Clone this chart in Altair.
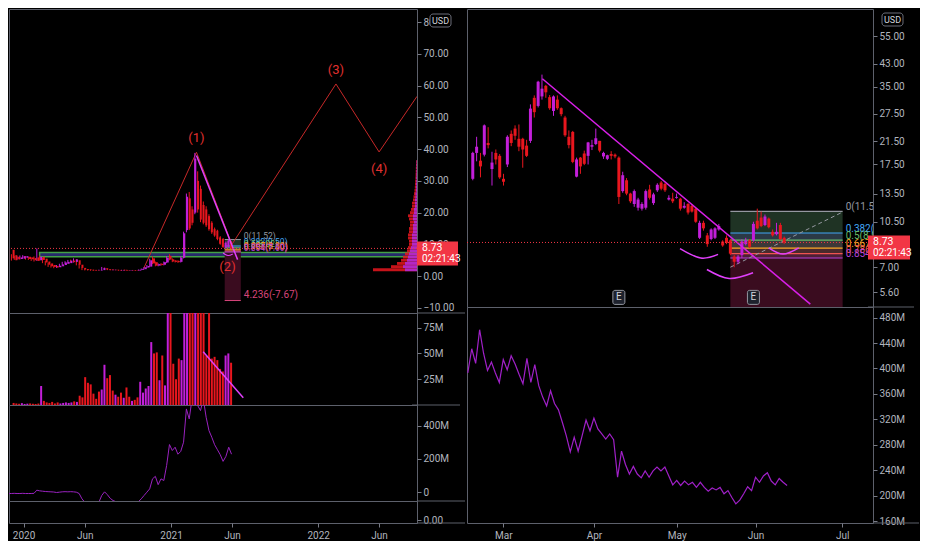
import altair as alt
import pandas as pd

# ---------------- styles ----------------
BG = "#000000"
UP = "#c21fd9"
DN = "#e8161e"
AX = "#b2b5be"
FRAME = "#5d606b"
FONT = "Roboto"
TAG = "#f23645"
W1, W2, GAP = 408, 406, 0
H1, H2, H3, H4 = 304, 92, 96, 22
R1, R2 = 298, 216
SEP_L, SEP_R = 48, 46

# ---------------- left pane: weekly candles ----------------
L_first_week = "2019-11-25"
L_open = [8.3, 6.6, 6.1, 5.4, 5.5, 5.8, 6.1, 5.9, 5.7, 5.9,
          5.0, 6.1, 5.5, 4.6, 4.0, 3.5, 3.2, 2.8, 3.1, 3.5,
          3.9, 4.1, 4.9, 4.5, 5.0, 3.6, 2.6, 2.2, 2.1, 2.0,
          1.95, 1.9, 1.8, 1.9, 2.5, 2.2, 2.1, 1.9, 2.0, 1.95,
          1.8, 2.0, 1.85, 1.75, 1.9, 1.85, 1.75, 2.0, 2.2, 2.7,
          3.0, 5.6, 4.4, 3.3, 3.9, 3.6, 4.3, 6.4, 5.3, 4.9,
          4.8, 4.5, 5.8, 14.5, 24.5, 21.0, 20.0, 30.0, 27.5, 22.4,
          21.0, 18.9, 16.8, 14.8, 14.3, 12.2, 11.7, 9.0, 9.2, 10.7]
L_high = [8.7, 6.9, 6.4, 6.2, 6.5, 6.6, 6.3, 6.1, 5.9, 6.2,
          8.7, 6.5, 5.8, 4.8, 4.2, 3.7, 3.4, 3.5, 3.9, 4.5,
          4.7, 5.1, 5.2, 5.6, 5.3, 3.8, 2.8, 2.3, 2.2, 2.1,
          2.05, 2.0, 2.05, 2.9, 2.7, 2.3, 2.2, 2.1, 2.1, 2.0,
          2.0, 2.1, 1.9, 1.9, 1.95, 1.9, 2.1, 2.4, 2.9, 3.5,
          5.5, 6.2, 4.6, 4.0, 4.1, 4.6, 6.3, 6.9, 5.6, 5.1,
          5.0, 6.2, 14.0, 26.0, 26.5, 22.0, 38.8, 33.0, 28.5, 23.5,
          22.0, 19.5, 17.3, 15.3, 14.6, 12.6, 12.0, 10.9, 11.6, 11.0]
L_low = [5.2, 4.9, 5.1, 5.2, 5.3, 5.6, 5.2, 5.1, 4.8, 4.6,
         4.8, 4.9, 4.1, 3.4, 2.9, 2.7, 2.5, 2.6, 2.9, 3.3,
         3.7, 3.9, 4.2, 4.3, 3.4, 2.4, 1.9, 1.8, 1.8, 1.7,
         1.7, 1.7, 1.75, 1.8, 2.0, 1.9, 1.8, 1.8, 1.8, 1.7,
         1.7, 1.7, 1.65, 1.7, 1.7, 1.65, 1.7, 1.9, 2.1, 2.6,
         2.9, 3.8, 3.1, 3.1, 3.3, 3.4, 4.1, 5.0, 4.4, 4.3,
         4.2, 4.3, 5.6, 13.8, 14.5, 16.0, 19.5, 20.0, 17.0, 16.3,
         15.5, 14.3, 13.3, 12.4, 11.3, 9.9, 8.9, 8.7, 9.0, 8.5]
L_close = [5.6, 5.0, 5.3, 5.9, 6.3, 6.3, 5.4, 5.3, 5.0, 4.8,
           6.1, 5.1, 4.3, 3.6, 3.1, 2.9, 2.7, 3.3, 3.7, 4.3,
           4.5, 4.9, 4.4, 5.3, 3.6, 2.6, 2.1, 1.9, 1.9, 1.8,
           1.8, 1.8, 1.95, 2.6, 2.1, 2.0, 1.9, 2.0, 1.85, 1.8,
           1.95, 1.8, 1.75, 1.85, 1.8, 1.75, 2.0, 2.3, 2.8, 3.2,
           5.0, 4.0, 3.3, 3.8, 3.5, 4.4, 5.8, 5.2, 4.6, 4.5,
           4.4, 5.8, 13.5, 25.0, 15.0, 16.8, 37.0, 21.0, 17.8, 16.8,
           16.0, 14.8, 13.8, 12.8, 11.7, 10.2, 9.2, 10.5, 11.2, 8.73]
L_vol = [2.0, 1.5, 1.2, 1.8, 1.0, 1.3, 1.5, 1.2, 1.0, 1.4,
         18.4, 4.0, 2.5, 2.0, 3.0, 1.5, 2.5, 1.5, 2.0, 2.5,
         2.0, 2.5, 3.5, 3.0, 9.0, 7.4, 27.0, 21.5, 20.0, 11.0,
         6.0, 13.0, 15.0, 39.0, 26.0, 29.0, 14.0, 10.0, 8.0, 12.0,
         7.0, 17.0, 8.0, 4.0, 5.0, 7.4, 22.5, 12.0, 16.0, 18.4,
         61.0, 50.0, 51.0, 24.0, 48.0, 19.0, 120.0, 110.0, 40.0, 25.0,
         45.0, 43.5, 150.0, 200.0, 180.0, 130.0, 250.0, 160.0, 120.0, 100.0,
         48.0, 95.0, 45.0, 46.7, 43.5, 35.0, 32.5, 48.0, 50.0, 41.0]
L_obv = [-8, -8, -7, -8, -8, -7, -8, -8, -8, -7,
         12, 8, 6, 4, 3, 2, 1, -2, 0, 2,
         3, 2, 3, 2, 0, -8, -40, -60, -80, -90,
         -85, -75, -60, -20, 2, -15, -37, -50, -57, -65,
         -75, -85, -80, -75, -70, -62, -57, -40, -20, 0,
         20, 80, 95, 45, 80, 70, 160, 286, 250, 270,
         228, 245, 300, 500, 440, 560, 590, 520, 490, 560,
         450, 370, 330, 285, 255, 225, 185, 215, 270, 228]

L_x0, L_x1 = "2019-11-26", "2022-09-03"
L_ticks = ["2020-01-01", "2020-06-01", "2021-01-01", "2021-06-01", "2022-01-01", "2022-06-01"]
L_price_ticks = [-10, 0, 10, 20, 30, 40, 50, 60, 70, 80]
L_vol_ticks = [25, 50, 75]
L_obv_ticks = [0, 200, 400]

wave_dates = ["2020-10-25", "2021-03-05", "2021-06-01", "2022-02-14", "2022-06-01", "2022-09-03"]
wave_px = [2.4, 39.0, 10.0, 60.5, 39.1, 56.6]
wave_txt = ["(1)", "(2)", "(3)", "(4)"]
wave_txt_dates = ["2021-03-05", "2021-05-21", "2022-02-14", "2022-06-01"]
wave_txt_px = [43.4, 2.75, 64.8, 33.6]
lt_dates = ["2021-03-05", "2021-06-15"]
lt_px = [38.0, 5.2]
vt_dates = ["2021-03-21", "2021-07-01"]
vt_val = [51.7, 7.1]
larc_dates = ["2021-05-10", "2021-05-22", "2021-06-03"]
larc_px = [7.3, 6.5, 7.0]
band_start, band_lo, band_hi = "2020-02-10", 6.1, 7.43
lf_x0, lf_x1 = "2021-05-14", "2021-06-23"

prof_px = [2, 3, 4, 5, 6, 7, 8, 9, 10, 11, 12, 13, 14, 15, 16, 17, 18, 19, 20,
           21, 22, 23, 24, 25, 26, 27, 28, 29, 30, 31, 32, 33, 34, 35, 36]
prof_tot = [44, 26, 20, 16, 14, 12, 10, 9, 8, 8, 9, 9, 8, 8, 7, 7, 8, 9, 7,
            6, 5, 5, 4, 3.5, 3, 2.5, 2.2, 2, 1.8, 1.6, 1.4, 1.3, 1.2, 1.0, 0.8]
prof_up = [12, 14, 12, 10, 9, 8, 7, 6, 5, 5, 5, 5, 4, 4, 4, 3, 4, 4, 3,
           3, 2, 2, 2, 1.5, 1.5, 1, 1, 1, 0.8, 0.8, 0.6, 0.6, 0.5, 0.5, 0.4]

# ---------------- right pane: daily candles ----------------
R_open = [15.4, 19.4, 18.1, 19.1, 21.2, 16.8, 19.4, 18.9, 15.4, 17.5,
          23.0, 24.1, 22.0, 22.0, 20.7, 21.6, 31.7, 29.5, 32.1, 35.3,
          31.9, 28.2, 31.2, 28.9, 26.6, 22.4, 23.4, 15.7, 18.6, 19.3,
          18.9, 20.5, 21.0, 21.6, 18.8, 18.4, 19.2, 19.1, 18.6, 13.8,
          15.2, 13.5, 12.3, 11.9, 11.8, 11.9, 14.0, 12.4, 13.9, 14.9,
          14.7, 12.8, 12.9, 13.0, 12.9, 11.9, 12.3, 12.1, 11.8, 9.1,
          10.4, 9.3, 9.0, 9.1, 9.8, 8.8, 9.1, 8.9, 7.7, 7.35,
          7.8, 8.6, 8.9, 8.9, 10.6, 10.9, 10.2, 10.8, 9.6, 9.4,
          10.2, 9.1]
R_high = [19.6, 22.4, 19.4, 25.0, 24.4, 19.6, 20.0, 19.2, 16.1, 22.7,
          23.7, 24.8, 25.0, 22.2, 21.8, 29.9, 32.4, 36.9, 39.0, 35.6,
          32.5, 32.4, 32.4, 29.1, 27.0, 23.7, 23.6, 18.6, 18.7, 19.8,
          21.4, 21.8, 24.1, 21.6, 19.6, 19.1, 19.7, 19.3, 18.8, 16.4,
          15.5, 13.6, 14.0, 13.0, 12.5, 14.0, 14.6, 13.6, 14.8, 15.1,
          14.9, 13.3, 13.6, 13.5, 13.0, 12.5, 12.4, 12.3, 11.9, 10.6,
          10.6, 9.5, 9.9, 10.0, 10.3, 8.9, 9.3, 9.0, 7.8, 7.8,
          9.0, 9.1, 9.0, 10.5, 11.8, 11.5, 11.2, 10.9, 9.8, 10.4,
          10.4, 9.2]
R_low = [15.2, 18.0, 15.6, 18.8, 20.2, 14.5, 17.5, 15.4, 14.5, 17.1,
         20.6, 21.8, 19.7, 17.0, 18.7, 21.2, 26.6, 29.1, 31.2, 31.7,
         28.5, 27.0, 28.5, 26.9, 22.4, 20.2, 17.7, 15.6, 16.1, 17.4,
         17.5, 19.9, 20.8, 19.5, 18.4, 18.2, 18.3, 18.5, 12.3, 13.6,
         13.3, 12.4, 12.0, 11.6, 11.6, 11.7, 12.8, 12.2, 13.7, 13.9,
         13.7, 12.7, 12.4, 12.9, 11.6, 11.8, 11.2, 11.4, 10.4, 9.0,
         9.7, 8.4, 8.9, 9.0, 9.7, 8.4, 8.6, 7.8, 7.0, 7.2,
         7.6, 8.5, 8.3, 8.8, 9.8, 10.0, 10.1, 9.9, 9.2, 9.3,
         8.9, 8.6]
R_close = [19.4, 20.5, 17.2, 24.8, 20.8, 17.8, 18.3, 15.6, 15.0, 22.4,
           21.2, 22.6, 20.5, 20.0, 18.9, 28.8, 27.9, 36.6, 34.4, 33.3,
           28.9, 32.1, 28.9, 27.4, 22.7, 20.8, 17.9, 18.3, 17.2, 17.6,
           21.3, 20.8, 22.1, 19.8, 19.4, 19.0, 18.9, 18.8, 13.1, 15.9,
           13.5, 12.6, 13.8, 12.8, 12.3, 13.8, 13.0, 13.4, 14.6, 14.1,
           13.9, 13.0, 12.6, 13.1, 11.8, 12.1, 11.4, 11.5, 10.5, 10.4,
           9.9, 8.6, 9.8, 9.9, 10.1, 8.5, 8.7, 7.9, 7.35, 7.7,
           8.8, 8.9, 8.4, 10.3, 9.9, 10.1, 11.0, 10.0, 9.3, 9.6,
           9.0, 8.73]
R_obv = [393, 431, 408, 461, 424, 397, 410, 393, 378, 414,
         398, 420, 407, 391, 376, 416, 378, 406, 373, 355,
         341, 365, 345, 335, 315, 294, 269, 292, 270, 294,
         319, 302, 322, 305, 297, 289, 297, 288, 229, 270,
         249, 234, 246, 234, 228, 239, 229, 239, 245, 239,
         245, 231, 217, 224, 216, 223, 217, 221, 213, 221,
         213, 207, 212, 209, 213, 203, 208, 197, 187, 193,
         203, 214, 208, 229, 221, 231, 236, 223, 217, 227,
         221, 216]
R_x0, R_x1 = -0.2, 102.8
R_month_idx = [9, 32, 53, 73, 95]
R_month_lbl = ["Mar", "Apr", "May", "Jun", "Jul"]
R_price_ticks = [5.6, 7, 10.5, 13.5, 17.5, 21.5, 27.5, 35, 43, 55]
R_obv_ticks = [160, 200, 240, 280, 320, 360, 400, 440, 480]
rt_idx, rt_px = [18.1, 87.8], [37.6, 5.04]
rdiag_idx, rdiag_px = [67.0, 96.2], [7.0, 11.45]
rf_x0, rf_x1 = 67.0, 96.2
arc_id = ["a", "a", "a", "b", "b", "b", "c", "c", "c"]
arc_idx = [53.9, 59.3, 63.8, 60.9, 66.7, 72.9, 77.0, 80.7, 84.8]
arc_px = [8.27, 7.60, 7.85, 6.86, 6.33, 6.66, 8.32, 7.87, 8.32]
e_idx, e_px = [38, 73], [5.35, 5.35]

fib_names = ["0", "0.382", "0.5", "0.667", "0.786", "0.854"]
fib_px = [11.52, 9.50, 8.92, 8.30, 7.90, 7.60]
fib_ext_name, fib_ext_px = "4.236", -7.67
fib_line_col = ["#9598a1", "#42a5f5", "#66bb6a", "#ffa726", "#ef5350", "#b543d8"]
fib_zone_col = ["#1f3324", "#2b3946", "#3e3838", "#4a2a2c", "#4d1f36", "#3a0c1f"]

last_price, last_time = 8.73, "02:21:43"

# ---------------- scales ----------------
LX = alt.Scale(domain=[alt.DateTime(year=2019, month=11, date=26, utc=True),
                       alt.DateTime(year=2022, month=9, date=3, utc=True)], nice=False)
LY_D = [-11.6, 84.1]
LV_D = [0, 89.2]
LO_D = [-53, 523.5]
L4_D = [-0.15, 1]
RY_D = [4.91, 70]
RO_D = [157, 496.7]
LY = alt.Scale(domain=LY_D, nice=False, zero=False)
LV = alt.Scale(domain=LV_D, nice=False, zero=False)
LO = alt.Scale(domain=LO_D, nice=False, zero=False)
L4 = alt.Scale(domain=L4_D, nice=False, zero=False)
RX = alt.Scale(domain=[R_x0, R_x1], nice=False, zero=False)
RY = alt.Scale(type="log", domain=RY_D, nice=False)
RO = alt.Scale(domain=RO_D, nice=False, zero=False)

LY_AX = alt.Axis(orient="right", values=L_price_ticks, format=".2f", title=None, labelOverlap=False)
RY_AX = alt.Axis(orient="right", values=R_price_ticks, format=".2f", title=None, labelOverlap=False)
LV_AX = alt.Axis(orient="right", values=L_vol_ticks, labelExpr="datum.value + 'M'", title=None)
LO_AX = alt.Axis(orient="right", values=L_obv_ticks,
                 labelExpr="datum.value == 0 ? '0' : datum.value + 'M'", title=None)
L4_AX = alt.Axis(orient="right", values=[0], format=".2f", title=None)
RO_AX = alt.Axis(orient="right", values=R_obv_ticks, labelExpr="datum.value + 'M'", title=None)

def lx(f):
    return alt.X(f, scale=LX, axis=None)

def ly(f):
    return alt.Y(f, scale=LY, axis=LY_AX)

def rx(f):
    return alt.X(f, scale=RX, axis=None)

def ry(f):
    return alt.Y(f, scale=RY, axis=RY_AX)

DIR = alt.Color("dir:N", scale=alt.Scale(domain=["up", "dn"], range=[UP, DN]), legend=None)

def sep(xenc, yenc, edge, ybottom, reach):
    # separator line continuing the pane's bottom edge across the price-axis strip
    return alt.Chart(pd.DataFrame(dict(e=[edge], p=[ybottom]))).mark_rule(
        color=FRAME, strokeWidth=1, x2Offset=reach).encode(x=xenc, x2="e", y=yenc)

# ---------------- frames ----------------
L_dates = pd.date_range(L_first_week, periods=len(L_open), freq="7D").strftime("%Y-%m-%d").tolist()
ldf = pd.DataFrame(dict(d=L_dates, o=L_open, h=L_high, l=L_low, c=L_close, v=L_vol, obv=L_obv))
ldf["dir"] = ["up" if c >= o else "dn" for o, c in zip(L_open, L_close)]

rdf = pd.DataFrame(dict(i=list(range(len(R_open))), o=R_open, h=R_high, l=R_low, c=R_close))
rdf["dir"] = ["up" if c >= o else "dn" for o, c in zip(R_open, R_close)]
robv = pd.DataFrame(dict(i=list(range(len(R_obv))), v=R_obv))

def zones(x0, x1, bottom):
    rows = []
    for k in range(len(fib_px)):
        lo = fib_px[k + 1] if k + 1 < len(fib_px) else bottom
        rows.append(dict(x0=x0, x1=x1, a=fib_px[k], b=lo, f=fib_zone_col[k]))
    return pd.DataFrame(rows)

def fib_lines(x0, x1):
    return pd.DataFrame(dict(x0=[x0] * len(fib_px), x1=[x1] * len(fib_px), p=fib_px, f=fib_line_col,
                             t=[f"{n}({p:.2f})" for n, p in zip(fib_names, fib_px)]))

# ---------------- left price pane ----------------
band = alt.Chart(pd.DataFrame(dict(x0=[band_start], x1=[L_x1], a=[band_lo], b=[band_hi]))).mark_rect(
    fill="#2a2d78", fillOpacity=0.9, stroke="#43a047", strokeWidth=1.5, clip=True
).encode(x=lx("x0:T"), x2="x1", y=ly("a:Q"), y2="b")

lz = alt.Chart(zones(lf_x0, lf_x1, fib_ext_px)).mark_rect(clip=True).encode(
    x=lx("x0:T"), x2="x1", y=ly("a:Q"), y2="b", color=alt.Color("f:N", scale=None))
lfl_df = fib_lines(lf_x0, lf_x1)
lfl = alt.Chart(lfl_df).mark_rule(strokeWidth=1, clip=True).encode(
    x=lx("x0:T"), x2="x1", y=ly("p:Q"), color=alt.Color("f:N", scale=None))
lext = alt.Chart(pd.DataFrame(dict(x0=[lf_x0], x1=[lf_x1], p=[fib_ext_px]))).mark_rule(
    color="#d6457a", strokeWidth=1, clip=True).encode(x=lx("x0:T"), x2="x1", y=ly("p:Q"))
lflt = alt.Chart(lfl_df).mark_text(align="left", baseline="bottom", dx=3, dy=1, fontSize=8.5, font=FONT).encode(
    x=lx("x1:T"), y=ly("p:Q"), text="t:N", color=alt.Color("f:N", scale=None))
lextt = alt.Chart(pd.DataFrame(dict(x1=[lf_x1], p=[fib_ext_px], t=[f"{fib_ext_name}({fib_ext_px:.2f})"]))).mark_text(
    align="left", baseline="bottom", dx=3, dy=-1, fontSize=10, font=FONT, color="#d6457a").encode(
    x=lx("x1:T"), y=ly("p:Q"), text="t:N")

pdf = pd.DataFrame(dict(lo=[p - 0.45 for p in prof_px], hi=[p + 0.45 for p in prof_px], tot=prof_tot, up=prof_up))
PX = alt.Scale(domain=[0, W1], reverse=True, nice=False, zero=True)
prof_dn = alt.Chart(pdf).mark_rect(color="#e8161e", opacity=0.85).encode(
    x=alt.X("tot:Q", scale=PX, axis=None), x2=alt.X2(datum=0), y=ly("lo:Q"), y2="hi")
prof_upb = alt.Chart(pdf).mark_rect(color="#b02ad6", opacity=0.9).encode(
    x=alt.X("up:Q", scale=PX, axis=None), x2=alt.X2(datum=0), y=ly("lo:Q"), y2="hi")

wave = alt.Chart(pd.DataFrame(dict(d=wave_dates, p=wave_px))).mark_line(
    color="#c62828", strokeWidth=1, clip=True).encode(x=lx("d:T"), y=ly("p:Q"))

lwick = alt.Chart(ldf).mark_rule(strokeWidth=1, clip=True).encode(x=lx("d:T"), y=ly("l:Q"), y2="h", color=DIR)
lbody = alt.Chart(ldf).mark_bar(size=2, clip=True).encode(x=lx("d:T"), y=ly("o:Q"), y2="c", color=DIR)

ltrend = alt.Chart(pd.DataFrame(dict(d=lt_dates, p=lt_px))).mark_line(
    color="#e040fb", strokeWidth=1.5, clip=True).encode(x=lx("d:T"), y=ly("p:Q"))
larc = alt.Chart(pd.DataFrame(dict(d=larc_dates, p=larc_px))).mark_line(
    color="#e040fb", strokeWidth=1.2, interpolate="natural", clip=True).encode(x=lx("d:T"), y=ly("p:Q"))

lprice = alt.Chart(pd.DataFrame(dict(p=[last_price]))).mark_rule(
    color=TAG, strokeDash=[1, 2], strokeWidth=1).encode(y=ly("p:Q"))

wtxt = alt.Chart(pd.DataFrame(dict(d=wave_txt_dates, p=wave_txt_px, t=wave_txt))).mark_text(
    fontSize=13, font=FONT, color="#e0302f").encode(x=lx("d:T"), y=ly("p:Q"), text="t:N")

ltag_df = pd.DataFrame(dict(e=[L_x1], p=[last_price]))
ltag = alt.Chart(ltag_df).mark_rect(color=TAG, x2Offset=41, yOffset=-7, y2Offset=17).encode(
    x=lx("e:T"), x2="e", y=ly("p:Q"), y2="p")
ltag1 = alt.Chart(ltag_df).mark_text(text=f"{last_price:.2f}", align="left", baseline="middle", dx=5,
                                     color="white", fontSize=10.5, font=FONT).encode(x=lx("e:T"), y=ly("p:Q"))
ltag2 = alt.Chart(ltag_df).mark_text(text=last_time, align="left", baseline="middle", dx=5, dy=11,
                                     color="white", fontSize=10, font=FONT).encode(x=lx("e:T"), y=ly("p:Q"))
lusd_df = pd.DataFrame(dict(e=[L_x1], p=[LY_D[1]]))
lusd = alt.Chart(lusd_df).mark_rect(fill=BG, stroke="#6a6d78", strokeWidth=1, cornerRadius=3,
                                    xOffset=13, x2Offset=34, yOffset=5, y2Offset=18).encode(
    x=lx("e:T"), x2="e", y=ly("p:Q"), y2="p")
lusdt = alt.Chart(lusd_df).mark_text(text="USD", dx=23.5, dy=11.5, baseline="middle", align="center",
                                     color="#d1d4dc", fontSize=9, font=FONT).encode(x=lx("e:T"), y=ly("p:Q"))

p1 = alt.layer(band, lz, lfl, lext, prof_dn, prof_upb, wave, lwick, lbody, ltrend, larc, lprice,
               lflt, lextt, wtxt, ltag, ltag1, ltag2, lusd, lusdt,
               sep(lx("e:T"), ly("p:Q"), L_x1, LY_D[0], SEP_L)).resolve_scale(x="independent").properties(
    width=W1, height=H1)

# ---------------- left volume pane ----------------
vbars = alt.Chart(ldf).mark_bar(size=2, clip=True).encode(
    x=lx("d:T"), y=alt.Y("v:Q", scale=LV, axis=LV_AX), color=DIR)
vtrend = alt.Chart(pd.DataFrame(dict(d=vt_dates, v=vt_val))).mark_line(
    color="#e040fb", strokeWidth=1.5, clip=True).encode(x=lx("d:T"), y=alt.Y("v:Q", scale=LV, axis=LV_AX))
p2 = alt.layer(vbars, vtrend,
               sep(lx("e:T"), alt.Y("p:Q", scale=LV, axis=LV_AX), L_x1, LV_D[0], SEP_L)).properties(
    width=W1, height=H2)

# ---------------- left OBV pane ----------------
obvl = alt.Chart(ldf).mark_line(color="#9a22c0", strokeWidth=1, clip=True).encode(
    x=lx("d:T"), y=alt.Y("obv:Q", scale=LO, axis=LO_AX))
p3 = alt.layer(obvl, sep(lx("e:T"), alt.Y("p:Q", scale=LO, axis=LO_AX), L_x1, LO_D[0], SEP_L)).properties(
    width=W1, height=H3)

# ---------------- left empty pane with time axis ----------------
tick_vals = [alt.DateTime(year=int(t[:4]), month=int(t[5:7]), date=1, utc=True) for t in L_ticks]
LX_AX = alt.Axis(values=tick_vals, title=None, labelPadding=3,
                 labelExpr="utcmonth(datum.value) == 0 ? utcFormat(datum.value, '%Y') : utcFormat(datum.value, '%b')")
dummy = alt.Chart(pd.DataFrame(dict(d=L_ticks, v=[0] * len(L_ticks)))).mark_point(opacity=0).encode(
    x=alt.X("d:T", scale=LX, axis=LX_AX), y=alt.Y("v:Q", scale=L4, axis=L4_AX))
p4 = alt.layer(dummy, sep(alt.X("e:T", scale=LX, axis=LX_AX), alt.Y("p:Q", scale=L4, axis=L4_AX),
                          L_x1, L4_D[0], SEP_L)).properties(width=W1, height=H4)

left = alt.vconcat(p1, p2, p3, p4, spacing=0, bounds="flush")

# ---------------- right price pane ----------------
rz = alt.Chart(zones(rf_x0, rf_x1, RY_D[0])).mark_rect(clip=True).encode(
    x=rx("x0:Q"), x2="x1", y=ry("a:Q"), y2="b", color=alt.Color("f:N", scale=None))
rfl_df = fib_lines(rf_x0, rf_x1)
rfl = alt.Chart(rfl_df).mark_rule(strokeWidth=1.2, clip=True).encode(
    x=rx("x0:Q"), x2="x1", y=ry("p:Q"), color=alt.Color("f:N", scale=None))
rflt = alt.Chart(rfl_df).mark_text(align="left", baseline="bottom", dx=3, dy=1, fontSize=10, font=FONT,
                                   clip=True).encode(
    x=rx("x1:Q"), y=ry("p:Q"), text="t:N", color=alt.Color("f:N", scale=None))
rdiag = alt.Chart(pd.DataFrame(dict(i=rdiag_idx, p=rdiag_px))).mark_line(
    color="#9598a1", strokeDash=[4, 3], strokeWidth=1, clip=True).encode(x=rx("i:Q"), y=ry("p:Q"))

rwick = alt.Chart(rdf).mark_rule(strokeWidth=1, clip=True).encode(x=rx("i:Q"), y=ry("l:Q"), y2="h", color=DIR)
rbody = alt.Chart(rdf).mark_bar(size=3, clip=True).encode(x=rx("i:Q"), y=ry("o:Q"), y2="c", color=DIR)

rtrend = alt.Chart(pd.DataFrame(dict(i=rt_idx, p=rt_px))).mark_line(
    color="#d81fe8", strokeWidth=1.5, clip=True).encode(x=rx("i:Q"), y=ry("p:Q"))
rarcs = alt.Chart(pd.DataFrame(dict(g=arc_id, i=arc_idx, p=arc_px))).mark_line(
    color="#e040fb", strokeWidth=1.5, interpolate="natural", clip=True).encode(
    x=rx("i:Q"), y=ry("p:Q"), detail="g:N")

rprice = alt.Chart(pd.DataFrame(dict(p=[last_price]))).mark_rule(
    color=TAG, strokeDash=[1, 2], strokeWidth=1).encode(y=ry("p:Q"))

edf = pd.DataFrame(dict(i=e_idx, p=e_px))
ebox = alt.Chart(edf).mark_rect(fill="#1e222d", stroke="#9598a1", strokeWidth=1, cornerRadius=2,
                                xOffset=-6, x2Offset=6, yOffset=-7, y2Offset=7).encode(
    x=rx("i:Q"), x2="i", y=ry("p:Q"), y2="p")
etxt = alt.Chart(edf).mark_text(text="E", color="#d1d4dc", fontSize=10, font=FONT, baseline="middle").encode(
    x=rx("i:Q"), y=ry("p:Q"))

rtag_df = pd.DataFrame(dict(e=[R_x1], p=[last_price]))
rtag = alt.Chart(rtag_df).mark_rect(color=TAG, x2Offset=42, yOffset=-7, y2Offset=17).encode(
    x=rx("e:Q"), x2="e", y=ry("p:Q"), y2="p")
rtag1 = alt.Chart(rtag_df).mark_text(text=f"{last_price:.2f}", align="left", baseline="middle", dx=5,
                                     color="white", fontSize=10.5, font=FONT).encode(x=rx("e:Q"), y=ry("p:Q"))
rtag2 = alt.Chart(rtag_df).mark_text(text=last_time, align="left", baseline="middle", dx=5, dy=11,
                                     color="white", fontSize=10, font=FONT).encode(x=rx("e:Q"), y=ry("p:Q"))
rusd_df = pd.DataFrame(dict(e=[R_x1], p=[RY_D[1]]))
rusd = alt.Chart(rusd_df).mark_rect(fill=BG, stroke="#6a6d78", strokeWidth=1, cornerRadius=3,
                                    xOffset=14, x2Offset=35, yOffset=4, y2Offset=17).encode(
    x=rx("e:Q"), x2="e", y=ry("p:Q"), y2="p")
rusdt = alt.Chart(rusd_df).mark_text(text="USD", dx=24.5, dy=10.5, baseline="middle", align="center",
                                     color="#d1d4dc", fontSize=9, font=FONT).encode(x=rx("e:Q"), y=ry("p:Q"))

r1 = alt.layer(rz, rfl, rdiag, rwick, rbody, rtrend, rarcs, rprice, rflt, ebox, etxt,
               rtag, rtag1, rtag2, rusd, rusdt,
               sep(rx("e:Q"), ry("p:Q"), R_x1, RY_D[0], SEP_R)).properties(width=W2, height=R1)

# ---------------- right OBV pane ----------------
month_expr = " : ".join(f"datum.value == {i} ? '{m}'" for i, m in zip(R_month_idx, R_month_lbl)) + " : ''"
RX_AX = alt.Axis(values=R_month_idx, labelExpr=month_expr, title=None, labelPadding=3)
robl = alt.Chart(robv).mark_line(color="#a020c8", strokeWidth=1.2, clip=True).encode(
    x=alt.X("i:Q", scale=RX, axis=RX_AX), y=alt.Y("v:Q", scale=RO, axis=RO_AX))
r2 = alt.layer(robl, sep(alt.X("e:Q", scale=RX, axis=RX_AX), alt.Y("p:Q", scale=RO, axis=RO_AX),
                         R_x1, RO_D[0], SEP_R)).properties(width=W2, height=R2)

right = alt.vconcat(r1, r2, spacing=0, bounds="flush")

chart = alt.hconcat(left, right, spacing=GAP).properties(
    background=BG, padding=0
).configure_view(stroke=FRAME, strokeWidth=1).configure_axis(
    labelFont=FONT, labelFontSize=10, labelColor=AX, tickColor="#787b86", tickSize=4,
    domain=False, grid=False
)

chart.save("out.html", embed_options={"renderer": "svg", "actions": False})
